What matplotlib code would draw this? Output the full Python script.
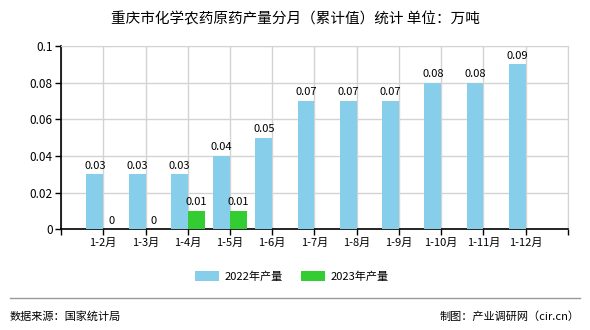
import numpy as np
import matplotlib
matplotlib.use('Agg')
from matplotlib import pyplot as plt

plt.rcParams['font.family'] = ['Noto Sans CJK SC', 'DejaVu Sans']

months = ['1-2月', '1-3月', '1-4月', '1-5月', '1-6月', '1-7月',
          '1-8月', '1-9月', '1-10月', '1-11月', '1-12月']
output_2022 = [0.03, 0.03, 0.03, 0.04, 0.05, 0.07, 0.07, 0.07, 0.08, 0.08, 0.09]
output_2023 = [0, 0, 0.01, 0.01]
yticks = [0, 0.02, 0.04, 0.06, 0.08, 0.1]
ytick_labels = ['0', '0.02', '0.04', '0.06', '0.08', '0.1']

c2022 = '#87ceeb'
c2023 = '#33cc33'
width = 0.4

fig = plt.figure(figsize=(5.9, 3.3), dpi=100)
ax = fig.add_axes([0.1034, 0.305, 0.8593, 0.5556])

x = np.arange(1, len(months) + 1)
x23 = x[:len(output_2023)]
ax.bar(x - width / 2, output_2022, width, color=c2022, label='2022年产量', zorder=3)
ax.bar(x23 + width / 2, output_2023, width, color=c2023, label='2023年产量', zorder=3)

# value labels above each bar
for xi, v in zip(x, output_2022):
    ax.text(xi - width / 2, v + 0.002, f'{v:g}', ha='center', va='bottom', fontsize=8)
for xi, v in zip(x23, output_2023):
    ax.text(xi + width / 2, v + 0.002, f'{v:g}', ha='center', va='bottom', fontsize=8)

ax.set_xlim(0, len(months) + 1)
ax.set_ylim(0, 0.1)
ax.set_xticks(np.arange(0, len(months) + 2))
ax.set_xticklabels([''] + months + [''], fontsize=8)
ax.set_yticks(yticks)
ax.set_yticklabels(ytick_labels, fontsize=8.5)
ax.tick_params(length=4, width=1, color='black', pad=2)

ax.grid(True, color='#d3d3d3', linewidth=1, zorder=0)
for side in ['top', 'right']:
    ax.spines[side].set_color('#d3d3d3')
for side in ['left', 'bottom']:
    ax.spines[side].set_color('black')
    ax.spines[side].set_linewidth(1.2)

fig.text(0.5, 0.943, '重庆市化学农药原药产量分月（累计值）统计 单位：万吨',
         ha='center', va='center', fontsize=10.5)

fig.legend(loc='center', bbox_to_anchor=(0.495, 0.162), ncol=2, frameon=False,
           fontsize=8, handlelength=2.2, handleheight=0.9, handletextpad=0.5,
           columnspacing=1.6)

fig.add_artist(plt.Line2D([0.017, 0.983], [0.097, 0.097], color='#999999', linewidth=1))
fig.text(0.017, 0.042, '数据来源：国家统计局', ha='left', va='center', fontsize=8)
fig.text(0.983, 0.042, '制图：产业调研网（cir.cn）', ha='right', va='center', fontsize=8)

fig.savefig('out.png', dpi=100)
